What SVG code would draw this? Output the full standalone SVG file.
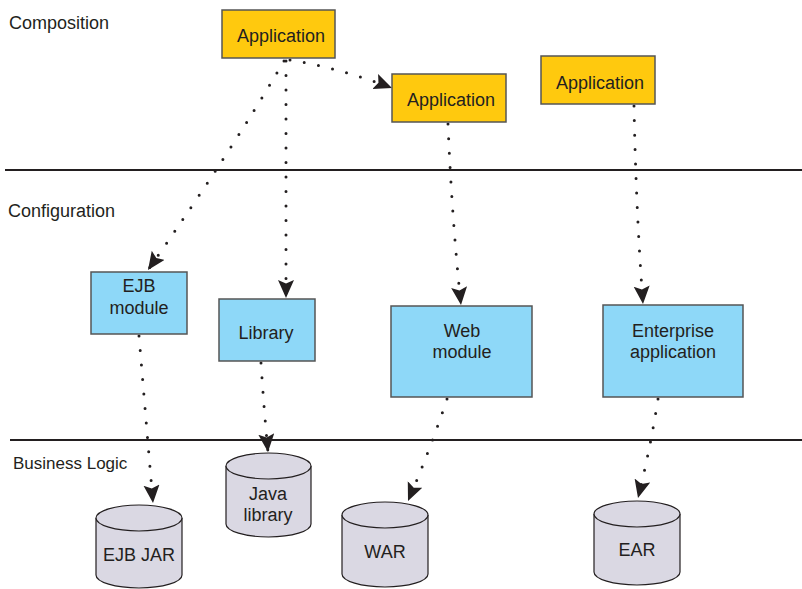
<svg xmlns="http://www.w3.org/2000/svg" width="802" height="589" viewBox="0 0 802 589">
<defs>
<style>
text{font-family:"Liberation Sans",Arial,sans-serif;font-size:18px;fill:#231f20}
.t{text-anchor:middle}
.app{fill:#ffc90e;stroke:#555;stroke-width:1.5}
.mod{fill:#8ed8f8;stroke:#555;stroke-width:1.5}
.cyl{fill:#dad8e3;stroke:#231f20;stroke-width:1.2}
.sep{stroke:#231f20;stroke-width:2}
.c{fill:none;stroke:#231f20;stroke-width:3;stroke-linecap:round;stroke-dasharray:0 14.5;marker-end:url(#ah)}
</style>
<marker id="ah" markerUnits="userSpaceOnUse" markerWidth="20" markerHeight="18" refX="18" refY="8" orient="auto">
<path d="M0,0 L18,8 L0,16 L3.5,8 Z" fill="#231f20"/>
</marker>
</defs>
<rect width="802" height="589" fill="#fff"/>
<g id="separators">
<line class="sep" x1="5" y1="170" x2="802" y2="170"/>
<line class="sep" x1="10" y1="440" x2="802" y2="440"/>
</g>
<g id="layer-labels">
<text x="9" y="29">Composition</text>
<text x="8" y="217">Configuration</text>
<text x="13" y="469" style="font-size:17px">Business Logic</text>
</g>
<g id="connectors">
<path class="c" d="M284,61 Q232,150 148,270"/>
<path class="c" d="M286,61 L286,298"/>
<path class="c" d="M290,60 Q340,68 392,88"/>
<path class="c" d="M448,124 Q452,220 461,305"/>
<path class="c" d="M634,106 Q636,210 643,304"/>
<path class="c" d="M139,336 Q146,420 153,503"/>
<path class="c" d="M261,363 Q264,410 268,452"/>
<path class="c" d="M447,399 Q430,450 408,501"/>
<path class="c" d="M658,399 Q650,450 638,498"/>
</g>
<g id="app1"><rect class="app" x="222" y="10" width="113" height="48"/><text class="t" x="281" y="42">Application</text></g>
<g id="app2"><rect class="app" x="392" y="74" width="114" height="48"/><text class="t" x="451" y="106">Application</text></g>
<g id="app3"><rect class="app" x="541" y="56" width="114" height="48"/><text class="t" x="600" y="89">Application</text></g>
<g id="ejb-module"><rect class="mod" x="91" y="272" width="96" height="62"/><text class="t" x="139" y="292">EJB</text><text class="t" x="139" y="314">module</text></g>
<g id="library"><rect class="mod" x="219" y="299" width="96" height="62"/><text class="t" x="266" y="339">Library</text></g>
<g id="web-module"><rect class="mod" x="391" y="306" width="141" height="91"/><text class="t" x="462" y="337">Web</text><text class="t" x="462" y="358">module</text></g>
<g id="enterprise-application"><rect class="mod" x="603" y="305" width="140" height="92"/><text class="t" x="673" y="337">Enterprise</text><text class="t" x="673" y="358">application</text></g>
<g id="java-library"><path class="cyl" d="M226,466 A42.5,13 0 0 1 311,466 L311,524 A42.5,13 0 0 1 226,524 Z"/><path class="cyl" fill="none" d="M226,466 A42.5,13 0 0 0 311,466"/><text class="t" x="268" y="500">Java</text><text class="t" x="268" y="521">library</text></g>
<g id="ejb-jar"><path class="cyl" d="M96,518 A43,13 0 0 1 182,518 L182,575 A43,13 0 0 1 96,575 Z"/><path class="cyl" fill="none" d="M96,518 A43,13 0 0 0 182,518"/><text class="t" x="139" y="561">EJB JAR</text></g>
<g id="war"><path class="cyl" d="M342,515 A43,13 0 0 1 428,515 L428,574 A43,13 0 0 1 342,574 Z"/><path class="cyl" fill="none" d="M342,515 A43,13 0 0 0 428,515"/><text class="t" x="385" y="558">WAR</text></g>
<g id="ear"><path class="cyl" d="M594,514 A43,13 0 0 1 680,514 L680,572 A43,13 0 0 1 594,572 Z"/><path class="cyl" fill="none" d="M594,514 A43,13 0 0 0 680,514"/><text class="t" x="637" y="556">EAR</text></g>
</svg>
